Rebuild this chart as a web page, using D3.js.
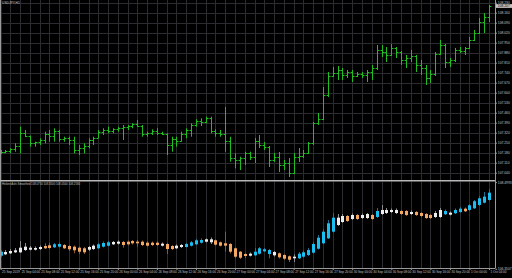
<!DOCTYPE html>
<html>
<head>
<meta charset="utf-8">
<script src="https://cdn.jsdelivr.net/npm/d3@7"></script>
<style>
  body { margin: 0; background: #000; }
  svg { display: block; }
</style>
</head>
<body>
<script>
// chart titles
var symbol = "USDJPY,H1";
var indicatorName = "Heiken Ashi Smoothed";

// hourly OHLC bars, one value per bar
var barOpen = [107.178,107.185,107.192,107.206,107.227,107.318,107.297,107.248,107.255,107.269,
	107.311,107.297,107.332,107.276,107.283,107.269,107.199,107.213,107.227,107.269,
	107.283,107.325,107.339,107.332,107.346,107.353,107.360,107.367,107.381,107.367,
	107.311,107.318,107.332,107.318,107.311,107.234,107.276,107.262,107.311,107.339,
	107.374,107.402,107.395,107.423,107.332,107.318,107.311,107.262,107.143,107.129,
	107.143,107.178,107.150,107.262,107.234,107.220,107.129,107.150,107.094,107.108,
	107.038,107.150,107.157,107.178,107.248,107.388,107.416,107.584,107.717,107.738,
	107.759,107.724,107.745,107.717,107.731,107.724,107.745,107.773,107.899,107.885,
	107.864,107.913,107.885,107.829,107.843,107.857,107.794,107.773,107.703,107.731,
	107.871,107.934,107.815,107.829,107.899,107.892,107.913,107.969,108.018,108.095,
	108.130];
var barHigh = [107.199,107.199,107.211,107.246,107.362,107.339,107.300,107.257,107.281,107.327,
	107.339,107.351,107.339,107.292,107.292,107.292,107.234,107.246,107.281,107.292,
	107.339,107.351,107.362,107.351,107.362,107.374,107.374,107.386,107.409,107.374,
	107.327,107.344,107.351,107.327,107.316,107.292,107.292,107.327,107.351,107.386,
	107.414,107.421,107.432,107.432,107.344,107.339,107.500,107.292,107.176,107.152,
	107.187,107.187,107.283,107.304,107.255,107.227,107.178,107.185,107.129,107.143,
	107.178,107.213,107.199,107.255,107.395,107.458,107.640,107.745,107.780,107.787,
	107.773,107.759,107.759,107.745,107.745,107.759,107.794,107.934,107.934,107.920,
	107.941,107.920,107.892,107.864,107.899,107.864,107.829,107.794,107.759,107.885,
	107.969,107.941,107.843,107.913,107.920,107.920,107.990,108.039,108.123,108.158,
	108.214];
var barLow = [107.171,107.176,107.176,107.187,107.176,107.290,107.222,107.222,107.234,107.246,
	107.257,107.257,107.257,107.257,107.234,107.176,107.164,107.176,107.211,107.234,
	107.281,107.304,107.316,107.316,107.327,107.269,107.339,107.351,107.362,107.292,
	107.292,107.304,107.304,107.304,107.164,107.187,107.222,107.257,107.281,107.292,
	107.362,107.367,107.386,107.316,107.292,107.292,107.187,107.117,107.071,107.059,
	107.094,107.129,107.108,107.213,107.199,107.080,107.115,107.045,107.059,107.010,
	107.031,107.115,107.143,107.171,107.234,107.374,107.409,107.570,107.710,107.689,
	107.689,107.703,107.675,107.710,107.703,107.675,107.689,107.759,107.850,107.815,
	107.857,107.843,107.794,107.773,107.815,107.745,107.724,107.654,107.668,107.717,
	107.864,107.773,107.780,107.815,107.878,107.864,107.906,107.962,108.011,108.018,
	108.095];
var barClose = [107.185,107.192,107.206,107.227,107.318,107.297,107.248,107.255,107.269,107.311,
	107.297,107.332,107.276,107.283,107.269,107.199,107.213,107.227,107.269,107.283,
	107.325,107.339,107.332,107.346,107.353,107.360,107.367,107.381,107.367,107.311,
	107.318,107.332,107.318,107.311,107.234,107.276,107.262,107.311,107.339,107.374,
	107.402,107.395,107.423,107.332,107.318,107.311,107.262,107.143,107.129,107.143,
	107.178,107.150,107.262,107.234,107.220,107.129,107.150,107.094,107.108,107.038,
	107.150,107.157,107.178,107.248,107.388,107.416,107.584,107.717,107.738,107.759,
	107.724,107.745,107.717,107.731,107.724,107.745,107.773,107.899,107.885,107.864,
	107.913,107.885,107.829,107.843,107.857,107.794,107.773,107.703,107.731,107.871,
	107.934,107.815,107.829,107.899,107.892,107.913,107.969,108.018,108.095,108.130,
	108.207];

// smoothed heiken ashi candles of the sub window
var haOpen = [106.683,106.718,106.743,106.768,106.768,106.825,106.833,106.833,106.850,106.925,
	106.943,106.893,106.908,106.950,106.925,106.908,106.883,106.868,106.833,106.850,
	106.868,106.908,106.933,106.968,106.983,107.025,107.033,107.050,107.033,107.033,
	107.008,107.008,107.008,106.933,106.975,106.925,106.868,106.900,106.900,106.933,
	106.968,107.008,107.033,107.018,107.068,107.018,106.993,106.975,106.868,106.783,
	106.725,106.683,106.693,106.733,106.793,106.725,106.693,106.743,106.700,106.668,
	106.618,106.618,106.658,106.700,106.758,106.858,106.993,107.118,107.283,107.450,
	107.525,107.675,107.600,107.700,107.625,107.625,107.700,107.650,107.725,107.750,
	107.775,107.750,107.800,107.800,107.725,107.775,107.750,107.725,107.700,107.650,
	107.650,107.718,107.708,107.743,107.775,107.858,107.825,107.868,107.950,108.008,
	108.075];
var haHigh = [106.825,106.825,106.850,106.875,107.050,107.000,106.925,106.913,106.938,106.993,
	107.008,107.000,107.013,106.975,106.950,106.938,106.913,106.900,106.925,106.963,
	107.000,107.038,107.050,107.050,107.063,107.050,107.063,107.075,107.075,107.063,
	107.038,107.038,107.038,107.013,107.000,106.950,106.963,106.975,107.000,107.050,
	107.100,107.113,107.113,107.138,107.088,107.038,107.283,107.000,106.888,106.800,
	106.750,106.763,106.875,106.900,106.875,106.850,106.800,106.763,106.725,106.688,
	106.718,106.775,106.813,106.875,107.025,107.200,107.350,107.575,107.750,107.725,
	107.725,107.700,107.738,107.725,107.738,107.750,107.725,107.875,107.950,107.875,
	107.863,107.863,107.825,107.825,107.813,107.800,107.775,107.750,107.725,107.800,
	107.875,107.838,107.788,107.863,107.900,107.888,107.975,108.075,108.175,108.275,
	108.350];
var haLow = [106.650,106.700,106.725,106.750,106.750,106.800,106.813,106.813,106.825,106.850,
	106.850,106.875,106.888,106.850,106.800,106.743,106.725,106.725,106.800,106.825,
	106.850,106.888,106.913,106.950,106.963,106.883,106.938,106.963,106.908,106.925,
	106.913,106.925,106.925,106.913,106.725,106.825,106.850,106.875,106.888,106.913,
	106.950,106.988,107.013,106.975,106.938,106.913,106.783,106.738,106.625,106.600,
	106.625,106.663,106.675,106.713,106.775,106.618,106.663,106.613,106.575,106.525,
	106.525,106.600,106.638,106.675,106.738,106.838,106.975,107.100,107.263,107.425,
	107.500,107.525,107.575,107.575,107.600,107.600,107.575,107.625,107.700,107.725,
	107.750,107.725,107.700,107.675,107.700,107.675,107.650,107.600,107.600,107.625,
	107.625,107.700,107.688,107.725,107.750,107.775,107.800,107.850,107.925,107.988,
	108.050];
var haClose = [106.783,106.775,106.800,106.818,106.883,106.908,106.883,106.875,106.900,106.868,
	106.875,106.968,106.975,106.868,106.843,106.818,106.783,106.768,106.900,106.933,
	106.968,107.000,107.018,107.025,107.033,106.950,106.968,106.993,106.993,106.950,
	106.933,106.950,106.950,106.983,106.850,106.850,106.933,106.950,106.975,107.018,
	107.068,107.075,107.093,107.093,106.958,106.933,106.933,106.783,106.658,106.633,
	106.675,106.733,106.783,106.868,106.843,106.825,106.775,106.643,106.608,106.583,
	106.658,106.733,106.768,106.825,106.975,107.133,107.283,107.493,107.633,107.633,
	107.675,107.550,107.700,107.600,107.700,107.725,107.600,107.800,107.825,107.825,
	107.825,107.825,107.725,107.700,107.775,107.700,107.675,107.625,107.625,107.750,
	107.825,107.800,107.758,107.825,107.858,107.793,107.943,108.043,108.118,108.158,
	108.258];
// candle colour state: u = up, n = neutral, d = down
var haState = ("u nnnnnnnn dd uu ddddd nn uuu nn dddddddd n dd nn uuuu nn ddddddd n uuuu n ddd n " +
	"uuuuuuuu nn d n d nn d u nnnn dd n dddd nn u n uu d uuuuu").replace(/ /g, "").split("");

// tick labels
var priceTicks = [108.230,108.160,108.090,108.020,107.950,107.880,107.810,107.740,107.670,
	107.600,107.530,107.460,107.390,107.320,107.250,107.180,107.110,107.040];
var subTicks = [108.4993, 106.3507];
var timeLabels = ["25 Sep 2019","25 Sep 04:00","25 Sep 08:00","25 Sep 12:00","25 Sep 16:00",
	"25 Sep 20:00","26 Sep 00:00","26 Sep 04:00","26 Sep 08:00","26 Sep 12:00","26 Sep 16:00",
	"26 Sep 20:00","27 Sep 00:00","27 Sep 04:00","27 Sep 08:00","27 Sep 12:00","27 Sep 16:00",
	"27 Sep 20:00","30 Sep 00:00","30 Sep 04:00","30 Sep 08:00","30 Sep 12:00","30 Sep 16:00",
	"30 Sep 20:00","1 Oct 00:00","1 Oct 04:00"];

var width = 512, height = 278;
var plotRight = 495, mainBottom = 180, subTop = 181.5, subBottom = 268;
var gridColor = "#2a2c30", frameColor = "#9a9a9a", textColor = "#c4c4c4";
var font = "'Liberation Sans', Arial, sans-serif";

var n = barOpen.length;
var x = d3.scaleLinear().domain([0, n - 1]).range([0.6, 489]);
var y = d3.scaleLinear().domain([107.040, 108.230]).range([172.7, 2.7]);
var ySub = d3.scaleLinear().domain([106.3507, 108.4993]).range([269, 183]);
var px = function(v) { return Math.round(v) + 0.5; };

var svg = d3.select("body").append("svg")
	.attr("width", width)
	.attr("height", height);

svg.append("rect").attr("width", width).attr("height", height).attr("fill", "#000");

// grid
var grid = svg.append("g").attr("stroke", gridColor).attr("stroke-width", 1);
var vIdx = d3.range(0, n, 2);
grid.selectAll("line.vm").data(vIdx).enter().append("line")
	.attr("x1", function(d) { return px(x(d)); })
	.attr("x2", function(d) { return px(x(d)); })
	.attr("y1", 0).attr("y2", mainBottom);
grid.selectAll("line.vs").data(vIdx).enter().append("line")
	.attr("x1", function(d) { return px(x(d)); })
	.attr("x2", function(d) { return px(x(d)); })
	.attr("y1", subTop).attr("y2", subBottom);
grid.selectAll("line.h").data(priceTicks).enter().append("line")
	.attr("x1", 0).attr("x2", plotRight)
	.attr("y1", function(d) { return px(y(d)); })
	.attr("y2", function(d) { return px(y(d)); });

// main window bars
var bars = d3.range(n).map(function(i) {
	return {i: i, o: barOpen[i], h: barHigh[i], l: barLow[i], c: barClose[i]};
});
var gBars = svg.append("g").attr("stroke", "#1fbf1f").attr("stroke-width", 1);
gBars.selectAll("line.hl").data(bars).enter().append("line")
	.attr("x1", function(d) { return px(x(d.i)); })
	.attr("x2", function(d) { return px(x(d.i)); })
	.attr("y1", function(d) { return y(d.h); })
	.attr("y2", function(d) { return y(d.l); });
gBars.selectAll("line.o").data(bars).enter().append("line")
	.attr("x1", function(d) { return px(x(d.i)) - 2; })
	.attr("x2", function(d) { return px(x(d.i)); })
	.attr("y1", function(d) { return px(y(d.o)); })
	.attr("y2", function(d) { return px(y(d.o)); });
gBars.selectAll("line.c").data(bars).enter().append("line")
	.attr("x1", function(d) { return px(x(d.i)); })
	.attr("x2", function(d) { return px(x(d.i)) + 2; })
	.attr("y1", function(d) { return px(y(d.c)); })
	.attr("y2", function(d) { return px(y(d.c)); });

// sub window candles
var bodyColor = {u: "#19bff0", n: "#ededed", d: "#f4a862"};
var wickColor = {u: "#1f6f95", n: "#8a8a8a", d: "#8c5a2c"};
var candles = d3.range(n).map(function(i) {
	return {i: i, o: haOpen[i], h: haHigh[i], l: haLow[i], c: haClose[i], s: haState[i]};
});
var gHa = svg.append("g");
gHa.selectAll("line").data(candles).enter().append("line")
	.attr("x1", function(d) { return px(x(d.i)); })
	.attr("x2", function(d) { return px(x(d.i)); })
	.attr("y1", function(d) { return ySub(d.h); })
	.attr("y2", function(d) { return ySub(d.l); })
	.attr("stroke", function(d) { return wickColor[d.s]; })
	.attr("stroke-width", 1);
gHa.selectAll("rect").data(candles).enter().append("rect")
	.attr("x", function(d) { return Math.round(x(d.i)) - 1; })
	.attr("width", 3)
	.attr("y", function(d) { return Math.min(ySub(d.o), ySub(d.c)); })
	.attr("height", function(d) { return Math.max(1, Math.abs(ySub(d.o) - ySub(d.c))); })
	.attr("fill", function(d) { return bodyColor[d.s]; });

// frame and window separator
var frame = svg.append("g").attr("stroke", frameColor).attr("stroke-width", 1);
frame.append("line").attr("x1", 0.5).attr("x2", 0.5).attr("y1", 0).attr("y2", subBottom);
frame.append("line").attr("x1", plotRight + 0.5).attr("x2", plotRight + 0.5).attr("y1", 0).attr("y2", subBottom + 0.5);
frame.append("line").attr("x1", 0).attr("x2", plotRight).attr("y1", subBottom + 0.5).attr("y2", subBottom + 0.5);
svg.append("rect").attr("x", 0).attr("y", mainBottom).attr("width", plotRight)
	.attr("height", 1.5).attr("fill", "#b8b8b8");

// price axis
var yAxis = d3.axisRight(y).tickValues(priceTicks).tickFormat(d3.format(".3f"))
	.tickSize(1.5).tickPadding(0.8);
var gy = svg.append("g").attr("transform", "translate(" + (plotRight + 0.5) + ",0)").call(yAxis);

// sub window axis
var subAxis = d3.axisRight(ySub).tickValues(subTicks).tickFormat(d3.format(".4f"))
	.tickSize(1.5).tickPadding(0.8);
var gs = svg.append("g").attr("transform", "translate(" + (plotRight + 0.5) + ",0)").call(subAxis);
gs.selectAll(".tick").attr("transform", function(d, i) {
	return "translate(0," + (i === 0 ? 182.6 : 269.3) + ")";
});

// time axis
var xAxis = d3.axisBottom(x).tickValues(d3.range(0, n, 4))
	.tickFormat(function(d, i) { return timeLabels[i]; })
	.tickSize(1.5).tickPadding(1.2);
var gx = svg.append("g").attr("transform", "translate(0," + (subBottom + 0.5) + ")").call(xAxis);
gx.selectAll("text").attr("text-anchor", "start").attr("x", 1);

[gy, gs, gx].forEach(function(g) {
	g.select(".domain").remove();
	g.selectAll("line").attr("stroke", frameColor);
	g.selectAll("text").attr("fill", textColor)
		.style("font-family", font).style("font-size", "3.3px");
});
gx.selectAll("text").style("font-size", "3.1px");

// current price label
var last = barClose[n - 1];
svg.append("rect").attr("x", plotRight + 1).attr("y", y(last) - 1.9)
	.attr("width", width - plotRight - 1).attr("height", 3.8).attr("fill", "#c4c4c4");
svg.append("text").attr("x", plotRight + 2.8).attr("y", y(last)).attr("dy", "0.35em")
	.attr("fill", "#000").style("font-family", font).style("font-size", "3.3px")
	.text(d3.format(".3f")(last));

// window titles
svg.append("text").attr("x", 2).attr("y", 3.6)
	.attr("fill", textColor).style("font-family", font).style("font-size", "3.3px")
	.text(symbol);
var f4 = d3.format(".4f");
svg.append("text").attr("x", 2).attr("y", 185.3)
	.attr("fill", textColor).style("font-family", font).style("font-size", "2.8px")
	.text(indicatorName + " " + f4(haOpen[n - 1]) + " " + f4(haHigh[n - 1]) + " " +
		f4(haLow[n - 1]) + " " + f4(haClose[n - 1]));
</script>
</body>
</html>
